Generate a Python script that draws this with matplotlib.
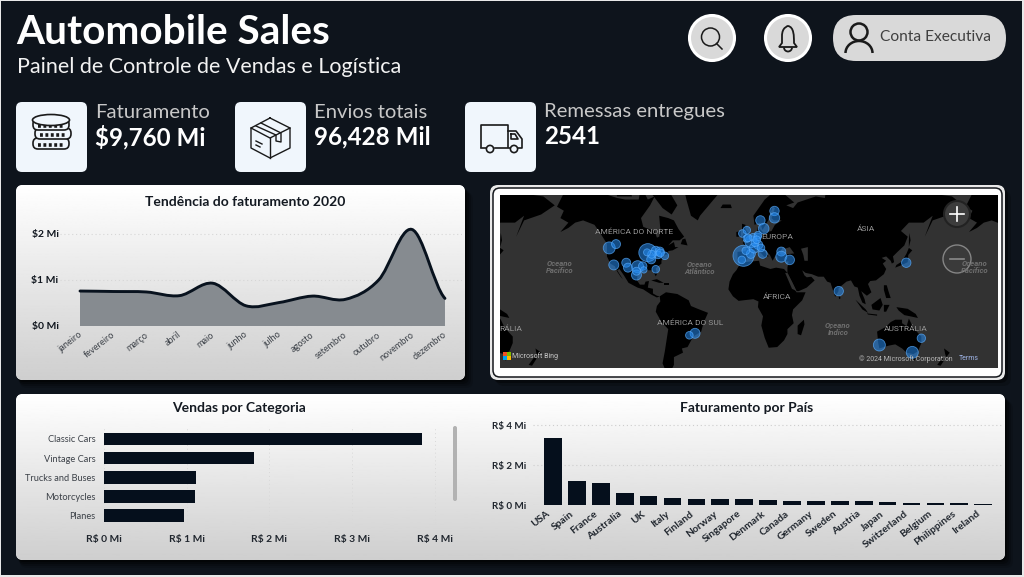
import numpy as np
import matplotlib
matplotlib.use('Agg')
import matplotlib.pyplot as plt
from matplotlib.patches import FancyBboxPatch, Circle, Ellipse, Polygon, PathPatch, Rectangle, Arc
from matplotlib.path import Path
from matplotlib.transforms import ScaledTranslation

W, H = 1024, 577
NAVY = '#050f1c'
BG = '#0e141c'
OCEAN = '#323232'

months = ['janeiro', 'fevereiro', 'março', 'abril', 'maio', 'junho', 'julho',
          'agosto', 'setembro', 'outubro', 'novembro', 'dezembro']
revenue_2020 = [0.76, 0.75, 0.74, 0.66, 0.93, 0.44, 0.51, 0.65, 0.58, 1.00, 2.10, 0.60]

categories = ['Classic Cars', 'Vintage Cars', 'Trucks and Buses', 'Motorcycles', 'Planes']
category_sales = [3.84, 1.81, 1.11, 1.10, 0.97]

countries = ['USA', 'Spain', 'France', 'Australia', 'UK', 'Italy', 'Finland', 'Norway',
             'Singapore', 'Denmark', 'Canada', 'Germany', 'Sweden', 'Austria', 'Japan',
             'Switzerland', 'Belgium', 'Philippines', 'Ireland']
country_revenue = [3.33, 1.21, 1.09, 0.62, 0.45, 0.37, 0.32, 0.30, 0.29, 0.24, 0.22,
                   0.22, 0.20, 0.18, 0.17, 0.10, 0.10, 0.09, 0.04]

# customer cities: longitude, latitude, bubble radius in pixels
city_lon = [-122, -116, -118, -107, -105.5, -97, -92.5, -98, -98, -91.5, -81, -88, -85, -81,
            -77.5, -73, -79, -84.6, -77, -88.7,
            -3.7, -5.2, 2.8, -1.7, 13.2, -4.7, -0.8, 2.8, 8.7, 9.3, -0.8,
            5.8, 11.7, 29.6, 29.6, 37, 11.2, 14.1, 23.6, 23.6, 4.7, 9, 0.3, 6.4, 8,
            139.7, 80.2, -46.4, -51.4, 116, 145, 153]
city_lat = [45.5, 47.8, 34, 35.6, 32, 32.7, 33.2, 26.3, 29.3, 30.3, 30.8, 42.5, 38, 43.7,
            43.2, 40.4, 41, 41.4, 42.3, 42.7,
            40.4, 37.6, 41.7, 43.7, 41.7, 53.7, 55.4, 49.2, 51.9, 47.3, 51,
            45.4, 45.5, 43.2, 39.8, 37.6, 60, 56.2, 63.9, 61.1, 51.7, 52.8, 51.3, 48.6, 50.3,
            35.6, 13, -23.4, -25, -32.5, -37.8, -27.3]
city_radius = [6, 4.5, 5, 4.5, 4.5, 6, 4.2, 5, 4, 3.2, 3.8, 9, 4.5, 4.5, 4.5, 3.8, 3.8, 4, 4, 3.5,
               10.5, 3.8, 4.5, 3.8, 4.5, 3.8, 3.8, 6, 3.8, 4.5, 3.8, 5, 3.8, 4.5, 5.5, 4.8, 4.7, 5.3,
               4.7, 5.2, 3.8, 3.8, 3.8, 3.8, 3.8,
               4.7, 4.7, 5, 3.8, 6, 6, 4.2]

# rough coastlines, lon/lat
land = [
    [(-168, 65.5), (-162, 70), (-156, 71.3), (-141, 70), (-128, 70), (-115, 68.5), (-108, 68),
     (-96, 68), (-94, 72), (-88, 68), (-82, 69), (-86, 66), (-94, 61), (-92, 57), (-82, 55),
     (-80, 51.5), (-78, 52), (-77, 56), (-78, 62), (-70, 61), (-65, 60), (-61, 56), (-56, 52),
     (-60, 50), (-66, 50), (-70, 47), (-65, 49), (-64, 46), (-61, 46), (-66, 44), (-70, 43.5),
     (-70, 41.5), (-74, 40.5), (-76, 37), (-76, 35), (-81, 31.5), (-80, 27), (-81, 25.2),
     (-82.5, 28), (-84, 30), (-89, 30), (-94, 29.5), (-97, 27.5), (-97.5, 22), (-95, 18.5),
     (-91, 18.5), (-90, 21), (-87, 21.5), (-88, 16), (-83.5, 15), (-83.5, 11), (-80, 9),
     (-77.5, 8.5), (-80, 7.5), (-85, 10), (-92, 14.5), (-97, 16), (-105, 20), (-109, 26),
     (-113, 31), (-115, 30), (-110, 23), (-112, 25), (-115, 29), (-117, 33), (-121, 35),
     (-124, 40), (-124, 48), (-130, 54), (-135, 58), (-145, 60), (-152, 59), (-158, 56.5),
     (-165, 54.5), (-158, 59), (-165, 61), (-162, 64)],
    [(-77.5, 8.5), (-72, 12), (-62, 10.5), (-52, 5), (-50, 0), (-44, -2.5), (-35, -6), (-39, -15),
     (-41, -22), (-48, -26), (-53, -34), (-58, -35), (-57, -38), (-65, -41), (-65, -46), (-68, -50),
     (-72, -50), (-75, -45), (-73, -37), (-70, -20), (-76, -14), (-81, -5), (-80, 0), (-77, 4)],
    [(-6, 35.8), (10, 37), (11, 33.5), (20, 31), (25, 32), (32, 31), (35, 28), (37, 21), (43, 12),
     (51, 12), (48, 5), (40, -3), (39, -8), (40.5, -15), (35, -20), (35, -24), (32, -29), (26, -34),
     (18.5, -34.5), (15, -27), (12, -17), (13.5, -9), (9, -1), (9.5, 4), (5, 6), (-4, 5), (-8, 4.5),
     (-13, 8.5), (-17, 14.5), (-16, 21), (-13, 27), (-10, 30)],
    [(49.5, -12), (50, -16), (47, -25), (44, -24), (44, -17)],
    [(-9, 37), (-6, 36), (-2, 36.7), (0, 39), (3, 42), (5, 43.3), (9, 44), (12, 42), (16, 38.5),
     (16, 40), (18.5, 40), (13, 45), (15, 44.5), (19.5, 41), (22, 37), (24, 40), (26, 40),
     (26.5, 38), (28, 36.7), (36, 36.5), (35, 32), (35, 28), (39, 21), (43, 13), (45, 13), (52, 16),
     (59, 22), (56, 25), (52, 24.5), (50, 26), (48, 30), (51, 28), (56.5, 27), (62, 25), (67, 25),
     (70, 21), (73, 20), (77, 8), (80, 13), (80, 15.5), (87, 21), (91, 22), (94, 17), (97, 16),
     (98.5, 9), (101, 3), (104, 1.5), (103, 6), (100, 13), (105, 9), (109, 12), (106, 19),
     (108, 21.5), (113, 22), (120, 27), (122, 31), (119, 35), (122, 37), (118, 39), (122, 40),
     (126, 37), (127, 35), (129, 36), (128, 40), (132, 43), (138, 47), (141, 52), (135, 55),
     (142, 59), (155, 59), (163, 62), (156, 52), (163, 60), (178, 62.5), (190, 66), (180, 69),
     (160, 70), (140, 72), (130, 71), (113, 74), (105, 77), (85, 74), (70, 73), (68, 68.5),
     (60, 69), (44, 67), (40, 65), (34, 66), (41, 67), (33, 69.5), (25, 71), (15, 68), (5, 62),
     (6, 58), (11, 59), (13, 55.5), (18, 60), (22, 65.5), (24, 65), (21, 61), (23, 60), (30, 60),
     (24, 58), (21, 55), (14, 54), (9, 57), (8, 54), (4, 52), (-1, 50), (-4.5, 48.5), (-1, 46),
     (-2, 43.5), (-9, 43)],
    [(-5, 50), (1, 51), (1.5, 53), (-2, 56), (-2, 58), (-5, 58.5), (-5, 55), (-3, 54), (-5, 52)],
    [(-10, 52), (-6, 52), (-6, 55), (-10, 54.5)],
    [(-24, 65), (-14, 65), (-15, 66.3), (-22, 66.3)],
    [(-73, 78), (-55, 82), (-25, 82), (-20, 72), (-30, 68), (-42, 62), (-44, 60), (-50, 62),
     (-54, 68), (-60, 76)],
    [(-85, 22), (-80, 23), (-74, 20), (-78, 20)],
    [(-74, 19.5), (-69, 19.5), (-69, 18), (-74, 18)],
    [(-80, 73), (-70, 71), (-62, 66), (-67, 62.5), (-75, 65), (-85, 70)],
    [(-118, 72), (-105, 73), (-102, 69), (-115, 69)],
    [(-59, 47.8), (-53, 47), (-55, 51), (-57.5, 50.5)],
    [(130, 32), (136, 34), (141, 36), (141.5, 41), (145, 44), (142, 45.5), (140, 42), (136, 36.5),
     (131, 34)],
    [(142, 46), (143.5, 50), (142.5, 54), (142, 50)],
    [(120, 18), (122.5, 18), (124, 13), (126, 7), (122, 7), (120, 14)],
    [(95, 5.5), (104, -3), (106, -6), (101, -3)],
    [(105, -6.5), (114, -7.5), (114, -8.5), (106, -7.5)],
    [(109, 1), (117, 7), (119, 1), (116, -4), (110, -3)],
    [(120, 1), (125, 1), (122, -5), (120, -5)],
    [(131, -1), (141, -2.5), (148, -7), (150, -10.5), (143, -9), (138, -8), (133, -4)],
    [(114, -22), (122, -18), (126, -14), (130, -12), (136, -12), (136, -15), (140, -17.5),
     (142, -11), (146, -19), (153, -26), (153, -31), (150, -37), (146, -39), (140, -38), (136, -35),
     (130, -32), (124, -33), (116, -35), (115, -31)],
    [(145, -41), (148, -41), (147, -43.5)],
    [(173, -35), (178, -38), (175, -41), (174, -39)],
    [(172, -41), (174, -42), (170, -46.5), (167, -46)],
    [(80, 9.5), (82, 7), (80.5, 6)],
    [(52, 71), (57, 71), (68, 76.5), (60, 76)],
]
inland_seas = [
    [(28, 42), (31, 46), (33, 45), (37, 46), (41, 42), (35, 41.5), (30, 41)],
    [(47, 45), (53, 46), (53, 37), (50, 37), (49, 41)],
    [(33, 28), (35, 28), (43, 13), (39, 15)],
]


def merc(lat):
    return np.log(np.tan(np.radians(45 + np.asarray(lat) / 2)))


fig = plt.figure(figsize=(W / 100, H / 100), dpi=100, facecolor='#e8e8e8')
plt.rcParams['font.family'] = ['Lato', 'DejaVu Sans']


def px_axes(x0, y0, x1, y1):
    ax = fig.add_axes([x0 / W, 1 - y1 / H, (x1 - x0) / W, (y1 - y0) / H])
    ax.patch.set_alpha(0)
    return ax


def shift_labels(ax, dx_px):
    # nudge the rotated tick labels sideways
    offset = ScaledTranslation(dx_px / 100, 0, fig.dpi_scale_trans)
    for label in ax.get_xticklabels():
        label.set_transform(label.get_transform() + offset)


bg = px_axes(0, 0, W, H)
bg.set_xlim(0, W)
bg.set_ylim(H, 0)
bg.axis('off')
bg.add_patch(Rectangle((1, 1), W - 3, H - 3, fc=BG, ec='none'))


def rbox(ax, x0, y0, x1, y1, r, **kw):
    p = FancyBboxPatch((x0 + r, y0 + r), x1 - x0 - 2 * r, y1 - y0 - 2 * r,
                       boxstyle='round,pad=%g,rounding_size=%g' % (r, r), **kw)
    ax.add_patch(p)
    return p


def panel(x0, y0, x1, y1, r=7):
    # soft shadow, then a white to grey vertical gradient
    for off, a in [(8, .12), (6, .2), (4, .3), (2, .4)]:
        rbox(bg, x0 + off / 2, y0 + off, x1 + off, y1 + off, r, fc='black', ec='none', alpha=a)
    clip = rbox(bg, x0, y0, x1, y1, r, fc='white', ec='none')
    grad = np.linspace(1, 0.81, 128).reshape(-1, 1)
    im = bg.imshow(grad, extent=(x0, x1, y1, y0), cmap='gray', vmin=0, vmax=1, aspect='auto', zorder=1.5)
    im.set_clip_path(clip)
    bg.set_xlim(0, W)
    bg.set_ylim(H, 0)


panel(16, 185, 465, 380)
panel(16, 394, 1005, 560)

# map frame
for off, a in [(6, .2), (3, .4)]:
    rbox(bg, 490 + off, 185 + off, 1005 + off, 380 + off, 8, fc='black', ec='none', alpha=a)
rbox(bg, 490, 185, 1005, 380, 8, fc='#e9e9e9', ec='none', zorder=2)
rbox(bg, 493, 188, 1002, 377, 7, fc='white', ec='#15181d', lw=1.1, zorder=2)

# header
bg.text(16, 33, 'Automobile Sales', color='white', fontsize=29.2, fontweight='bold', va='center')
bg.text(17, 67, 'Painel de Controle de Vendas e Logística', color='#f2f2f2', fontsize=15.5,
        va='center')

# search, bell and account buttons
for cx in (712, 788):
    bg.add_patch(Circle((cx, 38), 22.5, fc='#d9d9d9', ec='white', lw=2.2, zorder=3))
rbox(bg, 833, 15, 1006, 61, 23, fc='#d9d9d9', ec='none', zorder=3)
INK = '#1a1a1a'
bg.add_patch(Circle((710.5, 37), 9, fc='none', ec=INK, lw=1.1, zorder=4))
bg.plot([716.5, 722], [43.5, 49], color=INK, lw=1.1, zorder=4)
bell = Path([(779, 47), (782, 43), (782, 36), (782, 27), (788, 26), (788, 26), (794, 27), (794, 36),
             (794, 43), (797, 47), (779, 47)],
            [Path.MOVETO, Path.LINETO, Path.LINETO, Path.CURVE4, Path.CURVE4, Path.CURVE4, Path.CURVE4,
             Path.CURVE4, Path.LINETO, Path.LINETO, Path.CLOSEPOLY])
bg.add_patch(PathPatch(bell, fc='none', ec=INK, lw=1.3, zorder=4))
bg.add_patch(Arc((788, 47.5), 8, 8, theta1=0, theta2=180, ec=INK, lw=1.3, zorder=4))
bg.add_patch(Circle((859, 32), 8.5, fc='none', ec=INK, lw=1.8, zorder=4))
bg.add_patch(Arc((859, 53), 27, 24, theta1=180, theta2=360, ec=INK, lw=1.8, zorder=4))
bg.text(880, 37, 'Conta Executiva', color='#404040', fontsize=11.2, va='center', zorder=4)

# KPI cards
kpis = [(16, 'Faturamento', '$9,760 Mi'), (235, 'Envios totais', '96,428 Mil'),
        (465, 'Remessas entregues', '2541')]
for x, label, value in kpis:
    rbox(bg, x, 102, x + 71, 172, 6, fc='#f0f6fc', ec='none', zorder=3)
    bg.text(x + 79, 112, label, color='#c8c8c8', fontsize=14.6, va='center', zorder=3)
    bg.text(x + 79, 137, value, color='white', fontsize=17.4, fontweight='bold', va='center', zorder=3)

# coins
for cx, cy in [(51, 143), (53, 133), (51, 124)]:
    bg.add_patch(FancyBboxPatch((cx - 18, cy - 5), 36, 11, boxstyle='round,pad=0,rounding_size=5',
                                fc='#f0f6fc', ec=INK, lw=1.2, zorder=4))
    bg.plot([cx - 13, cx + 13], [cy + 2, cy + 2], color=INK, lw=2.6, ls=(0, (.8, .7)), zorder=4)
bg.add_patch(Ellipse((51, 120), 37, 11, fc='#f0f6fc', ec=INK, lw=1.2, zorder=4))

# parcel
box_edges = [[(270, 118), (290, 128), (290, 148), (270, 158), (251, 148), (251, 128), (270, 118)],
             [(251, 128), (270, 138), (290, 128)], [(270, 138), (270, 158)],
             [(261, 123), (281, 133), (281, 142), (276, 141), (276, 135), (256, 126)],
             [(256, 141), (262, 144)], [(256, 145), (260, 147)]]
for e in box_edges:
    xs, ys = zip(*e)
    bg.plot(xs, ys, color=INK, lw=1, zorder=4)

# truck
truck_edges = [[(481, 147), (481, 125), (508, 125), (508, 147)],
               [(508, 131), (516, 131), (522, 139), (522, 148), (518, 148)],
               [(495, 148), (511, 148)], [(481, 148), (486, 148)],
               [(511, 134), (515, 134), (518, 139), (511, 139), (511, 134)]]
for e in truck_edges:
    xs, ys = zip(*e)
    bg.plot(xs, ys, color=INK, lw=1.2, zorder=4)
for cx in (490, 514):
    bg.add_patch(Circle((cx, 149), 3.6, fc='#f0f6fc', ec=INK, lw=1.2, zorder=4))

# revenue trend, smooth area through the monthly values
ax1 = px_axes(60, 220, 462, 326)
ax1.set_xlim(-20 / 33.18, 382 / 33.18)
ax1.set_ylim(0, 106 / 46)
xm = np.arange(len(months), dtype=float)
ym = np.array(revenue_2020)
verts = [(xm[0], ym[0])]
codes = [Path.MOVETO]
for i in range(len(xm) - 1):
    a = max(i - 1, 0)
    b = min(i + 2, len(xm) - 1)
    verts += [(xm[i] + 1 / 3, ym[i] + (ym[i + 1] - ym[a]) / 6),
              (xm[i + 1] - 1 / 3, ym[i + 1] - (ym[b] - ym[i]) / 6),
              (xm[i + 1], ym[i + 1])]
    codes += [Path.CURVE4] * 3
area = Path(verts + [(xm[-1], 0), (xm[0], 0), (xm[0], 0)],
            codes + [Path.LINETO, Path.LINETO, Path.CLOSEPOLY])
ax1.add_patch(PathPatch(area, fc='#868b90', ec='none'))
ax1.add_patch(PathPatch(Path(verts, codes), fc='none', ec='#08121e', lw=2.1, capstyle='round'))
ax1.set_yticks([0, 1, 2], ['$0 Mi', '$1 Mi', '$2 Mi'], fontsize=7.5, fontweight='bold', color='#10161e')
ax1.set_xticks(xm)
ax1.set_xticklabels(months, rotation=38, ha='right', va='top', rotation_mode='anchor',
                    fontsize=6.6, color='#3c4148')
ax1.tick_params(length=0, axis='y', pad=1)
ax1.tick_params(length=0, axis='x', pad=3)
ax1.grid(axis='y', ls=(0, (1, 2.5)), color='#d6d6d6', lw=.8)
ax1.set_axisbelow(True)
for s in ax1.spines.values():
    s.set_visible(False)
shift_labels(ax1, -2)

# sales by category
ax2 = px_axes(104, 428, 450, 527)
ax2.set_xlim(0, 346 / 82.7)
ax2.set_ylim(4 + 11.3 / 19.2, -11 / 19.2)
ax2.barh(np.arange(len(categories)), category_sales, height=.66, color=NAVY)
ax2.set_yticks(np.arange(len(categories)), categories, fontsize=6.7, color='#3c4148')
ax2.set_xticks(range(5), ['R$ %d Mi' % i for i in range(5)], fontsize=7.4, fontweight='bold', color='#20262e')
ax2.tick_params(length=0, axis='y', pad=6)
ax2.tick_params(length=0, axis='x', pad=6)
ax2.grid(axis='x', ls=(0, (1, 3)), color='#d8d8d8', lw=.7)
ax2.set_axisbelow(True)
for s in ax2.spines.values():
    s.set_visible(False)

# revenue by country
ax3 = px_axes(533, 418, 1003, 505)
ax3.set_xlim(-20 / 23.9, 450 / 23.9)
ax3.set_ylim(0, 87 / 20)
ax3.bar(np.arange(len(countries)), country_revenue, width=.74, color=NAVY)
ax3.set_yticks([0, 2, 4], ['R$ 0 Mi', 'R$ 2 Mi', 'R$ 4 Mi'], fontsize=7.1, fontweight='bold', color='#20262e')
ax3.set_xticks(np.arange(len(countries)))
ax3.set_xticklabels(countries, rotation=38, ha='right', va='top', rotation_mode='anchor',
                    fontsize=7.4, fontweight='bold', color='#20262e')
ax3.tick_params(length=0, axis='y', pad=5)
ax3.tick_params(length=0, axis='x', pad=3)
ax3.grid(axis='y', ls=(0, (1, 2.5)), color='#cdcdcd', lw=.8)
ax3.set_axisbelow(True)
for s in ax3.spines.values():
    s.set_visible(False)
shift_labels(ax3, -7)

# map, mercator with 1.135 px per degree
PX_DEG = 1.135
LON0 = 747.7
ax4 = px_axes(500, 195, 998, 368)
ax4.patch.set_alpha(1)
ax4.patch.set_facecolor(OCEAN)
ax4.set_xlim((500 - LON0) / PX_DEG, (998 - LON0) / PX_DEG)
ax4.set_ylim((306 - 368) / 65, (306 - 195) / 65)
ax4.set_xticks([])
ax4.set_yticks([])
for s in ax4.spines.values():
    s.set_visible(False)
for shift in (-360, 0, 360):
    for poly in land:
        arr = np.array(poly, dtype=float)
        ax4.add_patch(Polygon(np.c_[arr[:, 0] + shift, merc(arr[:, 1])], fc='black', ec='none'))
    for poly in inland_seas:
        arr = np.array(poly, dtype=float)
        ax4.add_patch(Polygon(np.c_[arr[:, 0] + shift, merc(arr[:, 1])], fc=OCEAN, ec='none'))
sizes = (2 * np.array(city_radius) * 0.72) ** 2
ax4.scatter(city_lon, merc(city_lat), s=sizes, facecolors=(0.15, 0.55, 0.95, .55),
            edgecolors=(0.35, 0.68, 1, .7), linewidths=.6, zorder=5)

top = px_axes(0, 0, W, H)
top.set_xlim(0, W)
top.set_ylim(H, 0)
top.axis('off')
map_labels = [(634, 232, 'AMÉRICA DO NORTE'), (777, 237, 'EUROPA'), (866, 229, 'ÁSIA'), (777, 297, 'ÁFRICA'),
              (690, 323, 'AMÉRICA DO SUL'), (906, 329, 'AUSTRÁLIA')]
for x, y, s in map_labels:
    top.text(x, y, s, color='#969696', fontsize=6, ha='center', va='center', family='Roboto')
top.text(511, 329, 'RÁLIA', color='#969696', fontsize=6, ha='center', va='center', family='Roboto')
oceans = [(560, 267, 'Oceano\nPacífico'), (700, 268, 'Oceano\nAtlântico'), (838, 329, 'Oceano\nÍndico'),
          (975, 267, 'Oceano\nPacífico')]
for x, y, s in oceans:
    top.text(x, y, s, color='#6e6e6e', fontsize=5.6, style='italic', fontweight='bold', ha='center', va='center',
             family='Roboto', linespacing=1.1)
top.add_patch(Circle((957, 214), 13, fc='#3c3c3c', ec='#222222', lw=1.5))
top.plot([950, 964], [214, 214], color='white', lw=1.2)
top.plot([957, 957], [207, 221], color='white', lw=1.2)
top.add_patch(Circle((957, 259), 14, fc='#3a3a3a', ec='#858585', lw=1))
top.plot([950, 964], [259, 259], color='#8a8a8a', lw=1.2)
for (x, y, c) in [(503, 352, '#f25022'), (507, 352, '#7fba00'), (503, 356, '#00a4ef'), (507, 356, '#ffb900')]:
    top.add_patch(Rectangle((x, y), 4, 4, fc=c, ec='none'))
top.text(512, 356, 'Microsoft Bing', color='#c8c8c8', fontsize=5, va='center', family='Roboto')
top.text(859, 359, '© 2024 Microsoft Corporation', color='#b8b8b8', fontsize=5, va='center', family='Roboto')
top.text(959, 359, 'Terms', color='#9fb4e6', fontsize=5, va='center', family='Roboto')

# panel titles
for x, y, s in [(245, 202, 'Tendência do faturamento 2020'), (239, 408, 'Vendas por Categoria'),
                (747, 408, 'Faturamento por País')]:
    top.text(x, y, s, color='#141a22', fontsize=10, fontweight='bold', ha='center', va='center')
top.add_patch(FancyBboxPatch((453, 426), 4, 75, boxstyle='round,pad=0,rounding_size=2', fc='#b2b2b2', ec='none'))

fig.savefig('out.png', dpi=100)
